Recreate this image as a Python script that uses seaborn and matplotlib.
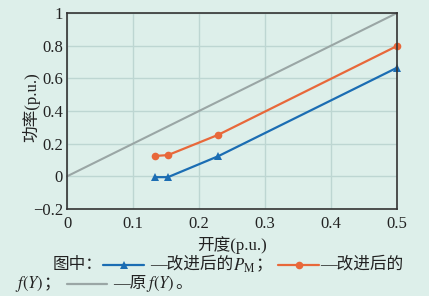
import matplotlib
matplotlib.use("Agg")
import matplotlib.pyplot as plt
import seaborn as sns
import pandas as pd
from matplotlib.lines import Line2D

# data
opening_pm = [0.134, 0.153, 0.229, 0.5]
power_pm = [-0.005, -0.005, 0.123, 0.665]
opening_fy = [0.134, 0.153, 0.229, 0.5]
power_fy = [0.125, 0.13, 0.254, 0.798]
opening_orig = [0.0, 0.5]
power_orig = [0.0, 1.0]
xticks = [0, 0.1, 0.2, 0.3, 0.4, 0.5]
yticks = [-0.2, 0, 0.2, 0.4, 0.6, 0.8, 1]
ytick_labels = ["\u22120.2", "0", "0.2", "0.4", "0.6", "0.8", "1"]

BG = "#DDEFEA"
BLUE = "#1B6DB3"
ORANGE = "#E8683A"
GRAY = "#9AA6A5"
GRID = "#BDD6D2"
TXT = "#222222"

sns.set_theme(style="white")
plt.rcParams['font.family'] = ['Liberation Serif', 'Noto Sans CJK SC', 'DejaVu Sans']
plt.rcParams['mathtext.fontset'] = 'stix'

fig = plt.figure(figsize=(4.29, 2.96), dpi=100, facecolor=BG)
ax = fig.add_axes([67/429, 1-209/296, (397-67)/429, (209-13)/296])
ax.set_facecolor(BG)

df_pm = pd.DataFrame({"x": opening_pm, "y": power_pm})
df_fy = pd.DataFrame({"x": opening_fy, "y": power_fy})
df_or = pd.DataFrame({"x": opening_orig, "y": power_orig})

sns.lineplot(data=df_or, x="x", y="y", ax=ax, color=GRAY, linewidth=1.5, sort=False)
sns.lineplot(data=df_fy, x="x", y="y", ax=ax, color=ORANGE, linewidth=1.6, marker="o",
             markersize=5.5, markeredgewidth=0, sort=False)
sns.lineplot(data=df_pm, x="x", y="y", ax=ax, color=BLUE, linewidth=1.6, marker="^",
             markersize=6, markeredgewidth=0, sort=False)

ax.set_xlim(0, 0.5)
ax.set_ylim(-0.2, 1)
ax.set_xticks(xticks)
ax.set_xticklabels([("%g" % v) for v in xticks])
ax.set_yticks(yticks)
ax.set_yticklabels(ytick_labels)
ax.grid(True, color=GRID, linewidth=1.0)
ax.tick_params(axis="both", length=0, labelsize=12, colors=TXT)
ax.tick_params(axis="x", pad=5)
ax.tick_params(axis="y", pad=3)
for s in ax.spines.values():
    s.set_visible(True)
    s.set_color("#333333")
    s.set_linewidth(1.2)
for l in ax.lines:
    l.set_clip_on(False)

ax.set_xlabel("开度(p.u.)", fontsize=12, color=TXT, labelpad=3)
ax.set_ylabel("功率(p.u.)", fontsize=12, color=TXT)
ax.yaxis.set_label_coords((40 - 67) / 330, 0.52)

renderer = fig.canvas.get_renderer()
fs = 12


def put(x_px, y_frac, s):
    t = fig.text(x_px / 429, y_frac, s, fontsize=fs, va="center", ha="left", color=TXT)
    bb = t.get_window_extent(renderer=renderer)
    return bb.x1


def seg(x0, x1, y, color, marker=None, ms=6):
    fig.add_artist(Line2D([x0 / 429, x1 / 429], [y, y], color=color, linewidth=1.6,
                          transform=fig.transFigure))
    if marker:
        fig.add_artist(Line2D([(x0 + x1) / 2 / 429], [y], color=color, marker=marker,
                              markersize=ms, markeredgewidth=0, transform=fig.transFigure))


y1 = 1 - 265 / 296
y2 = 1 - 284 / 296
put(53, y1, "图中：")
seg(103, 144, y1, BLUE, "^", 6)
x = put(150, y1, "—改进后的")
x = put(x, y1 - 0.003, "$P_{\\mathrm{M}}$")
put(x, y1, "；")
seg(278, 319, y1, ORANGE, "o", 5.5)
put(320, y1, "—改进后的")

x = put(15, y2, "$f(Y)$")
put(x, y2, "；")
seg(67, 107, y2, GRAY)
x = put(113, y2, "—原")
x = put(x, y2, "$f(Y)$")
put(x, y2, "。")

fig.savefig("out.png", dpi=100, facecolor=BG)
